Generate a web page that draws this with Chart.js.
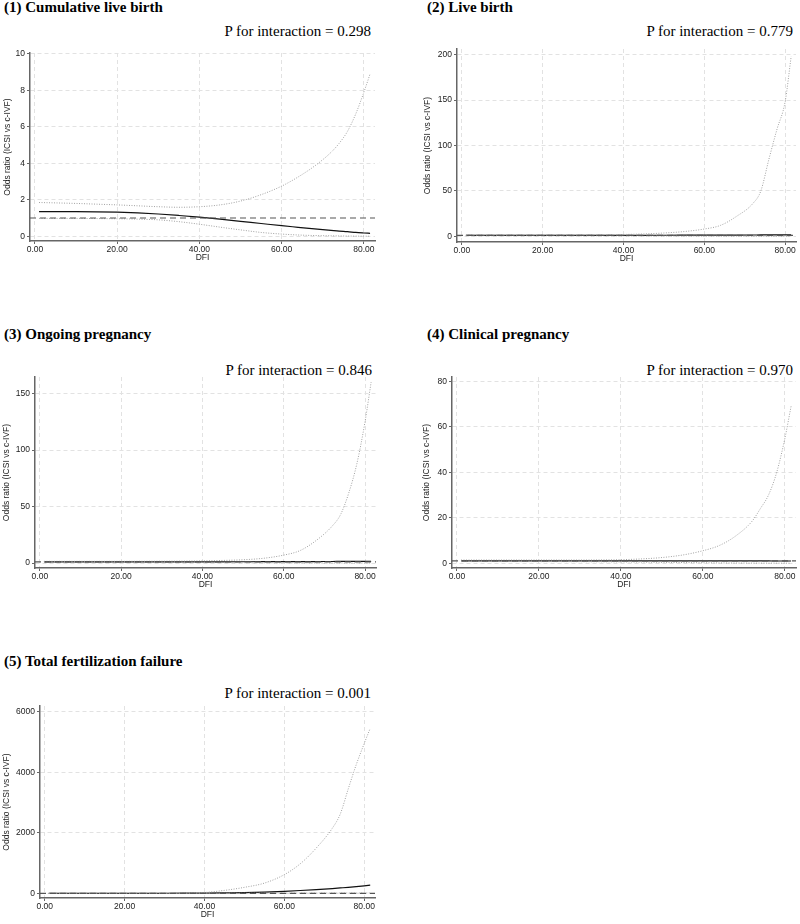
<!DOCTYPE html>
<html>
<head>
<meta charset="utf-8">
<script src="https://cdn.jsdelivr.net/npm/chart.js@4.4.1/dist/chart.umd.min.js"></script>
<style>
  html, body { margin: 0; padding: 0; background: #fff; overflow: hidden; }
  body { width: 800px; height: 924px; position: relative; }
  canvas { position: absolute; }
  .ttl { position: absolute; font: bold 15px "Liberation Serif", "Times New Roman", serif; line-height: 15px; white-space: nowrap; color: #000; }
  .pval { position: absolute; font: 15px "Liberation Serif", "Times New Roman", serif; line-height: 15px; white-space: nowrap; text-align: right; color: #000; }
</style>
</head>
<body>
<script>
// DFI grid shared by all five panels
var dfi = [1, 5, 10, 15, 20, 25, 30, 35, 40, 45, 50, 55, 60, 64, 68, 72, 74, 76, 78, 80, 81.5];
var xTicks = [0, 20, 40, 60, 80];
var xMin = -1.2, xMax = 82.7;
var refOR = 1;

var titles = ["(1) Cumulative live birth", "(2) Live birth", "(3) Ongoing pregnancy", "(4) Clinical pregnancy", "(5) Total fertilization failure"];
var pValues = ["0.298", "0.779", "0.846", "0.970", "0.001"];

// (1) cumulative live birth
var or1 = [1.35, 1.35, 1.35, 1.34, 1.32, 1.28, 1.22, 1.14, 1.05, 0.94, 0.82, 0.70, 0.58, 0.49, 0.40, 0.32, 0.28, 0.25, 0.21, 0.18, 0.16];
var hi1 = [1.85, 1.83, 1.80, 1.76, 1.72, 1.67, 1.62, 1.59, 1.62, 1.72, 1.93, 2.28, 2.75, 3.25, 3.85, 4.6, 5.1, 5.75, 6.7, 7.9, 8.9];
var lo1 = [0.98, 0.98, 0.98, 0.97, 0.96, 0.94, 0.90, 0.80, 0.66, 0.50, 0.35, 0.21, 0.12, 0.07, 0.04, 0.025, 0.018, 0.012, 0.008, 0.005, 0.004];
var yTicks1 = [0, 2, 4, 6, 8, 10];

// (2) live birth
var or2 = [1.0, 1.0, 1.0, 1.0, 1.0, 1.0, 1.02, 1.04, 1.06, 1.1, 1.14, 1.18, 1.24, 1.3, 1.36, 1.42, 1.45, 1.5, 1.54, 1.58, 1.62];
var hi2 = [1.6, 1.6, 1.6, 1.6, 1.6, 1.65, 1.7, 1.8, 2.0, 2.6, 3.6, 5.2, 8.0, 12, 22, 36, 50, 85, 118, 148, 198];
var lo2 = [0.62, 0.62, 0.62, 0.61, 0.6, 0.58, 0.55, 0.5, 0.44, 0.37, 0.3, 0.23, 0.17, 0.13, 0.09, 0.07, 0.06, 0.05, 0.04, 0.03, 0.02];
var yTicks2 = [0, 50, 100, 150, 200];

// (3) ongoing pregnancy
var or3 = [1.0, 1.0, 1.0, 1.0, 1.0, 1.0, 1.01, 1.03, 1.05, 1.08, 1.12, 1.16, 1.21, 1.26, 1.31, 1.36, 1.39, 1.42, 1.46, 1.5, 1.53];
var hi3 = [1.5, 1.5, 1.5, 1.5, 1.5, 1.55, 1.6, 1.7, 1.9, 2.3, 2.9, 4.2, 7.0, 11, 20, 33, 43, 62, 88, 125, 160];
var lo3 = [0.65, 0.65, 0.65, 0.64, 0.63, 0.6, 0.57, 0.52, 0.46, 0.39, 0.31, 0.24, 0.18, 0.14, 0.1, 0.07, 0.06, 0.05, 0.04, 0.03, 0.02];
var yTicks3 = [0, 50, 100, 150];

// (4) clinical pregnancy
var or4 = [1.04, 1.04, 1.04, 1.04, 1.03, 1.03, 1.03, 1.02, 1.02, 1.02, 1.01, 1.01, 1.0, 1.0, 1.0, 0.99, 0.99, 0.99, 0.98, 0.98, 0.98];
var hi4 = [1.4, 1.4, 1.4, 1.4, 1.4, 1.4, 1.4, 1.45, 1.55, 1.9, 2.5, 3.6, 5.5, 7.8, 12, 18.5, 24, 30, 40, 55, 69];
var lo4 = [0.72, 0.72, 0.72, 0.72, 0.71, 0.7, 0.68, 0.64, 0.58, 0.5, 0.4, 0.3, 0.2, 0.14, 0.09, 0.06, 0.05, 0.04, 0.03, 0.02, 0.015];
var yTicks4 = [0, 20, 40, 60, 80];

// (5) total fertilization failure
var or5 = [0.3, 0.5, 0.8, 1.2, 1.8, 2.8, 4.2, 6.5, 10, 18, 28, 45, 70, 95, 125, 160, 180, 200, 225, 250, 270];
var hi5 = [5, 5, 6, 7, 8, 9, 10, 15, 30, 100, 200, 340, 620, 980, 1500, 2150, 2620, 3450, 4250, 4950, 5450];
var lo5 = [0.02, 0.05, 0.1, 0.2, 0.35, 0.6, 1, 1.8, 3, 4.5, 6, 8, 10, 11, 12, 12.5, 13, 13, 13.5, 14, 14];
var yTicks5 = [0, 2000, 4000, 6000];

// layout of each panel: canvas box, y-axis box width, y range, title/p-value spots
var panels = [
  { or: or1, hi: hi1, lo: lo1, yTicks: yTicks1, yMin: -0.26, yMax: 10.05, left: 3, top: 45, w: 380, h: 218, yW: 27, padR: 8, tl: 4, tt: 0, pr: 371, pt: 24 },
  { or: or2, hi: hi2, lo: lo2, yTicks: yTicks2, yMin: -6.3, yMax: 206.3, left: 423, top: 41, w: 377, h: 223, yW: 34, padR: 4, tl: 427, tt: 0, pr: 793, pt: 24 },
  { or: or3, hi: hi3, lo: lo3, yTicks: yTicks3, yMin: -4.4, yMax: 164.6, left: 2, top: 369, w: 382, h: 221, yW: 33, padR: 8, tl: 4, tt: 327, pr: 372, pt: 363 },
  { or: or4, hi: hi4, lo: lo4, yTicks: yTicks4, yMin: -2.1, yMax: 81.9, left: 422, top: 369, w: 378, h: 221, yW: 30, padR: 4, tl: 427, tt: 327, pr: 793, pt: 363 },
  { or: or5, hi: hi5, lo: lo5, yTicks: yTicks5, yMin: -152, yMax: 6188, left: 2, top: 698, w: 381, h: 222, yW: 38, padR: 8, tl: 4, tt: 654, pr: 371, pt: 686 }
];

var tickFont = { family: "'Liberation Sans', Arial, sans-serif", size: 8.5 };
var gridColor = '#e2e2e2';
var axisColor = '#666';

function pts(xs, ys) {
  return xs.map(function (x, i) { return { x: x, y: ys[i] }; });
}

panels.forEach(function (p, idx) {
  var t = document.createElement('div');
  t.className = 'ttl';
  t.style.left = p.tl + 'px';
  t.style.top = p.tt + 'px';
  t.textContent = titles[idx];
  document.body.appendChild(t);

  var pv = document.createElement('div');
  pv.className = 'pval';
  pv.style.right = (800 - p.pr) + 'px';
  pv.style.top = p.pt + 'px';
  pv.textContent = 'P for interaction = ' + pValues[idx];
  document.body.appendChild(pv);

  var cv = document.createElement('canvas');
  cv.width = p.w;
  cv.height = p.h;
  cv.style.left = p.left + 'px';
  cv.style.top = p.top + 'px';
  cv.style.width = p.w + 'px';
  cv.style.height = p.h + 'px';
  document.body.appendChild(cv);

  new Chart(cv.getContext('2d'), {
    type: 'line',
    data: {
      datasets: [
        {
          label: 'Reference',
          data: [{ x: xMin, y: refOR }, { x: xMax, y: refOR }],
          borderColor: '#555',
          borderWidth: 1.2,
          borderDash: [6, 4],
          pointRadius: 0
        },
        {
          label: 'Upper 95% CI',
          data: pts(dfi, p.hi),
          borderColor: '#a0a0a0',
          borderWidth: 1,
          borderDash: [1, 1.5],
          pointRadius: 0,
          cubicInterpolationMode: 'monotone'
        },
        {
          label: 'Lower 95% CI',
          data: pts(dfi, p.lo),
          borderColor: '#a0a0a0',
          borderWidth: 1,
          borderDash: [1, 1.5],
          pointRadius: 0,
          cubicInterpolationMode: 'monotone'
        },
        {
          label: 'Odds ratio',
          data: pts(dfi, p.or),
          borderColor: '#111',
          borderWidth: 1.2,
          pointRadius: 0,
          cubicInterpolationMode: 'monotone'
        }
      ]
    },
    options: {
      responsive: false,
      animation: false,
      events: [],
      layout: { padding: { top: 8, right: p.padR, left: 0, bottom: 0 } },
      plugins: { legend: { display: false }, tooltip: { enabled: false } },
      scales: {
        x: {
          type: 'linear',
          min: xMin,
          max: xMax,
          afterBuildTicks: function (axis) {
            axis.ticks = xTicks.map(function (v) { return { value: v }; });
          },
          afterFit: function (axis) { axis.height = 22; },
          ticks: {
            font: tickFont,
            color: '#222',
            padding: 1,
            maxRotation: 0,
            callback: function (v) { return Number(v).toFixed(2); }
          },
          grid: {
            color: gridColor,
            tickColor: axisColor,
            tickLength: 3,
            tickBorderDash: [],
            lineWidth: 1
          },
          border: { display: true, color: axisColor, width: 1.5, dash: [4, 3] },
          title: {
            display: true,
            text: 'DFI',
            font: tickFont,
            color: '#222',
            padding: { top: 0, bottom: 0 }
          }
        },
        y: {
          type: 'linear',
          min: p.yMin,
          max: p.yMax,
          afterBuildTicks: function (axis) {
            axis.ticks = p.yTicks.map(function (v) { return { value: v }; });
          },
          afterFit: function (axis) { axis.width = p.yW; },
          ticks: {
            font: tickFont,
            color: '#222',
            padding: 2,
            callback: function (v) { return String(v); }
          },
          grid: {
            color: gridColor,
            tickColor: axisColor,
            tickLength: 3,
            tickBorderDash: [],
            lineWidth: 1
          },
          border: { display: true, color: axisColor, width: 1.5, dash: [4, 3] },
          title: {
            display: true,
            text: 'Odds ratio (ICSI vs c-IVF)',
            font: tickFont,
            color: '#222',
            padding: { top: 0, bottom: 0 }
          }
        }
      }
    }
  });
});
</script>
</body>
</html>
